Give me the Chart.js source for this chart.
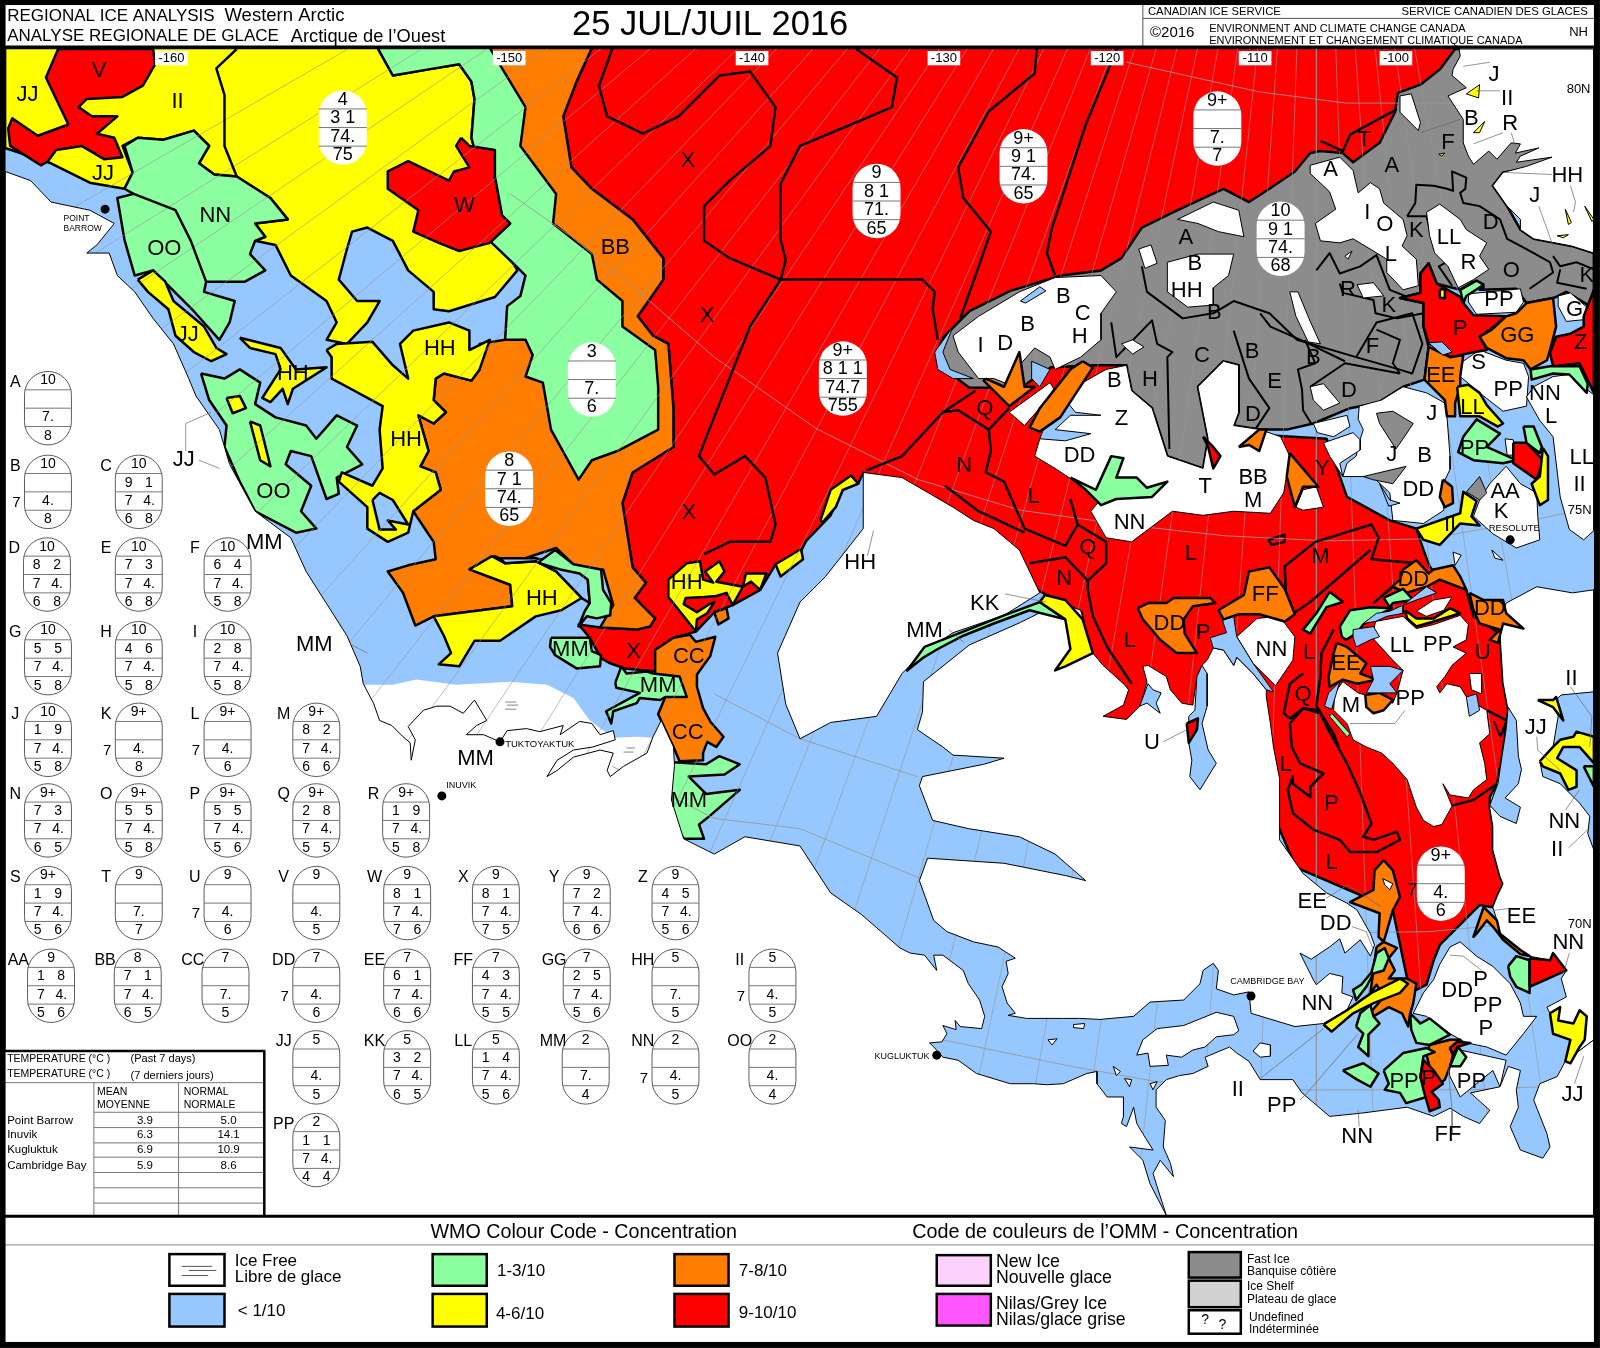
<!DOCTYPE html>
<html>
<head>
<meta charset="utf-8">
<title>Regional Ice Analysis - Western Arctic</title>
<style>html,body{margin:0;padding:0;background:#fff}canvas{display:block}</style>
<script src="https://cdn.jsdelivr.net/npm/chart.js@4"></script>
</head>
<body>
<canvas id="iceChart" width="1600" height="1348"></canvas>
<script>
// Map shapes (x, y in the 1568 x 1321 picture space)
const coast = [[5,168],[30,177],[50,198],[88,206],[112,219],[95,240],[85,248],[107,248],[115,270],[132,286],[150,312],[170,337],[185,371],[192,388],[215,421],[225,455],[250,501],[285,527],[300,560],[340,623],[353,653],[356,670],[366,689],[372,706],[384,711],[395,722],[402,728],[403,745],[407,725],[400,712],[415,696],[428,692],[441,692],[454,699],[465,686],[477,706],[467,711],[457,720],[474,720],[490,727],[497,716],[516,714],[529,717],[552,711],[549,720],[568,707],[580,709],[588,720],[601,716],[603,725],[581,732],[562,735],[546,745],[536,761],[546,755],[562,742],[588,735],[601,738],[595,755],[598,761],[611,751],[634,738],[640,722],[648,706],[660,732],[661,750],[658,784],[670,822],[700,837],[730,820],[784,829],[814,875],[844,896],[882,929],[892,934],[906,936],[918,951],[915,936],[924,936],[944,951],[949,964],[960,980],[965,996],[962,1008],[941,1006],[936,1000],[937,1009],[924,1005],[928,1013],[923,1021],[911,1022],[916,1027],[924,1036],[939,1039],[957,1052],[990,1062],[1013,1062],[1026,1063],[1042,1062],[1065,1052],[1075,1050],[1075,1062],[1085,1075],[1101,1075],[1101,1094],[1099,1101],[1104,1104],[1111,1085],[1114,1101],[1120,1111],[1130,1127],[1107,1124],[1120,1137],[1127,1160],[1143,1191],[1134,1163],[1130,1150],[1137,1137],[1150,1153],[1147,1140],[1140,1124],[1142,1098],[1133,1085],[1133,1068],[1143,1058],[1156,1054],[1169,1052],[1184,1045],[1181,1036],[1205,1026],[1212,1032],[1224,1040],[1235,1058],[1267,1058],[1276,1071],[1303,1094],[1333,1091],[1379,1085],[1405,1094],[1421,1086],[1434,1094],[1450,1101],[1460,1088],[1441,1071],[1470,1065],[1478,1045],[1490,1049],[1486,1068],[1488,1085],[1480,1104],[1490,1127],[1512,1135],[1519,1124],[1516,1111],[1503,1078],[1509,1062],[1526,1055],[1534,1040],[1562,1019]];
const openWater = [[358,671],[385,671],[408,666],[447,671],[500,668],[536,671],[562,684],[578,706],[601,723],[624,722],[640,723],[650,745],[600,770],[400,770],[358,700]];

const redMain = [[580,47],[1426,47],[1400,120],[1340,170],[1300,190],[1100,300],[1130,420],[1300,430],[1320,487],[1362,510],[1388,518],[1395,539],[1401,555],[1411,568],[1437,578],[1444,604],[1470,621],[1473,669],[1478,696],[1472,741],[1467,768],[1460,781],[1460,792],[1463,810],[1463,833],[1470,859],[1473,866],[1467,879],[1463,889],[1450,887],[1411,926],[1405,941],[1398,965],[1388,970],[1379,959],[1365,892],[1340,880],[1270,850],[1240,780],[1235,720],[1170,715],[1080,708],[1060,600],[1020,580],[846,463],[841,474],[826,480],[814,505],[790,530],[785,540],[760,553],[745,578],[718,593],[700,600],[682,619],[660,625],[642,637],[643,658],[612,655],[598,650],[589,645],[578,625],[567,612],[588,615],[624,617],[637,614],[642,606],[622,586],[633,571],[620,556],[610,493],[620,463],[660,438],[660,400],[655,337],[640,329],[625,310],[650,274],[650,253],[620,215],[580,185],[560,164],[552,114],[565,80]];
const orangeWest = [[470,47],[580,47],[565,80],[552,114],[560,164],[580,185],[620,215],[650,253],[650,274],[625,310],[640,329],[655,337],[660,400],[660,438],[620,463],[610,493],[620,556],[633,571],[622,586],[642,606],[637,614],[624,617],[588,615],[601,593],[591,558],[571,562],[545,537],[500,552],[485,545],[460,558],[500,573],[502,594],[425,604],[407,613],[395,581],[380,560],[400,554],[427,548],[425,531],[405,501],[432,480],[427,463],[412,457],[420,442],[410,407],[425,415],[437,404],[425,392],[427,371],[435,366],[462,373],[470,362],[470,337],[495,333],[530,320],[530,250],[510,200],[490,100]];
const yellowWest = [[5,47],[370,47],[385,74],[420,68],[450,63],[462,80],[465,97],[462,135],[470,165],[490,236],[507,265],[485,291],[440,305],[425,303],[425,286],[400,265],[385,236],[360,223],[345,227],[340,244],[332,274],[350,295],[372,295],[360,316],[340,337],[320,333],[330,316],[320,295],[285,270],[270,240],[250,236],[260,232],[250,219],[282,215],[265,194],[232,173],[210,171],[195,160],[205,143],[190,128],[160,137],[135,135],[120,143],[130,169],[122,185],[88,179],[50,160],[5,145]];
const greenThree = [[370,47],[480,47],[495,72],[515,105],[510,143],[545,190],[542,219],[580,249],[585,274],[610,295],[610,320],[642,343],[645,379],[645,421],[605,442],[580,451],[567,470],[540,421],[532,375],[515,369],[522,348],[515,333],[495,333],[497,300],[510,290],[515,270],[507,262],[482,238],[470,165],[462,135],[465,97],[462,80],[450,63],[420,68],[385,74]];
const redV = [[57,48],[45,76],[67,122],[37,133],[12,116],[8,126],[10,143],[40,162],[47,158],[55,147],[80,143],[102,156],[120,154],[112,135],[95,131],[115,114],[90,114],[77,105],[85,97],[120,95],[140,84],[152,63],[150,48]];
const redW = [[452,135],[460,143],[485,147],[485,173],[492,211],[500,219],[480,238],[450,246],[430,238],[405,227],[410,206],[380,185],[380,168],[400,158],[440,177],[445,168],[460,164],[447,143]];
const greenNN = [[122,143],[135,135],[160,137],[190,128],[205,143],[195,160],[210,171],[232,173],[265,194],[282,215],[250,219],[260,232],[250,236],[245,249],[260,265],[240,276],[202,276],[200,286],[230,295],[225,316],[215,333],[190,305],[165,280],[150,265],[132,270],[122,235],[115,194],[131,190],[122,185],[130,169]];
const yellowJJ = [[135,274],[150,265],[162,276],[170,295],[200,320],[212,341],[222,347],[207,354],[190,345],[172,329],[165,303],[145,286]];
const greenOO = [[197,366],[220,371],[235,362],[255,375],[250,396],[270,409],[300,417],[310,430],[330,407],[350,417],[340,438],[355,455],[330,468],[332,484],[320,489],[305,447],[285,442],[280,455],[305,476],[295,501],[310,518],[290,522],[250,501],[235,472],[220,438],[222,417],[205,392]];
const yellowOO1 = [[222,390],[235,388],[241,400],[228,405]];
const yellowOO2 = [[245,413],[255,417],[265,457],[255,451]];
const yellowHH1 = [[235,331],[275,341],[290,362],[320,360],[287,381],[282,396],[277,381],[265,394],[257,390],[275,362],[270,347],[245,341]];
const yellowHH2 = [[320,343],[330,337],[365,335],[385,358],[400,371],[392,337],[405,324],[440,316],[460,324],[460,343],[480,333],[470,362],[462,373],[435,366],[427,371],[425,392],[437,404],[425,415],[410,407],[420,442],[412,457],[427,463],[432,480],[405,501],[400,522],[380,531],[360,518],[360,497],[332,472],[335,463],[365,476],[375,459],[372,421],[375,398],[340,379],[325,371],[325,350]];
const blueHHhole = [[365,490],[372,483],[385,490],[400,514],[380,510],[388,519],[372,519]];
const yellowHH3 = [[460,558],[482,545],[495,552],[525,550],[545,560],[570,586],[550,598],[525,604],[490,628],[465,628],[450,653],[430,651],[442,640],[435,623],[425,604],[502,594],[500,573]];
const blueChannel = [[490,547],[525,547],[550,553],[568,562],[576,568],[578,591],[570,586],[545,560],[525,550],[495,552]];
const greenLow = [[529,550],[544,539],[562,553],[589,558],[591,578],[599,591],[598,603],[585,606],[575,604],[567,614],[573,599],[578,591],[576,568],[568,562],[549,558],[529,552]];
const greenMM1 = [[540,625],[578,625],[580,638],[589,642],[588,653],[565,655],[544,642],[539,634]];
const orangeCC = [[642,637],[660,625],[676,622],[682,629],[701,624],[696,643],[683,661],[683,673],[689,694],[696,707],[709,722],[702,732],[693,727],[689,738],[689,745],[666,746],[660,732],[645,700],[652,683],[642,660]];
const greenMM2 = [[603,669],[609,653],[614,660],[634,658],[640,660],[666,663],[673,683],[652,683],[647,686],[627,684],[624,689],[601,697],[599,709],[594,697],[627,679],[604,674]];
const greenMM3 = [[660,747],[692,749],[705,741],[725,749],[710,759],[675,761],[692,778],[725,774],[695,800],[685,808],[690,822],[670,822],[655,795]];
const yellowCoast = [[682,619],[655,585],[655,568],[673,552],[686,550],[689,568],[699,571],[691,560],[705,550],[710,560],[702,570],[728,575],[731,562],[751,562],[745,578],[736,570],[728,575],[718,593],[712,581],[702,584],[690,585],[672,586],[670,592],[683,600],[695,592],[700,590],[693,601],[683,607]];
const yellowCoast2 = [[760,553],[785,538],[787,548],[765,565]];
const yellowCoast3 = [[804,510],[814,480],[834,466],[841,474],[826,480],[819,497],[806,512]];
const orangeSpot = [[700,600],[712,596],[714,606],[704,612]];

const grayFast = [[1426,48],[1411,68],[1392,83],[1370,91],[1367,110],[1352,140],[1326,159],[1316,150],[1294,148],[1284,150],[1269,168],[1244,185],[1224,198],[1199,185],[1154,206],[1119,223],[1099,253],[1079,265],[1040,270],[990,285],[950,305],[925,330],[918,345],[930,365],[950,380],[1000,380],[1030,360],[1075,358],[1104,358],[1109,383],[1129,400],[1144,447],[1179,459],[1184,430],[1174,379],[1199,354],[1214,358],[1214,404],[1209,417],[1235,421],[1261,421],[1287,415],[1323,400],[1350,395],[1375,379],[1396,372],[1400,340],[1395,320],[1395,297],[1372,292],[1392,287],[1392,268],[1400,258],[1408,278],[1431,284],[1444,276],[1454,281],[1450,284],[1486,283],[1496,297],[1522,292],[1525,291],[1535,286],[1558,300],[1562,284],[1562,248],[1540,241],[1503,234],[1490,225],[1477,202],[1463,182],[1473,169],[1530,160],[1520,135],[1470,125],[1445,110],[1445,60],[1430,48]];

// Land, white, drawn over the sea and ice
const banks = [[846,463],[884,468],[934,497],[954,510],[974,518],[999,539],[1019,581],[984,603],[934,620],[904,640],[884,660],[859,702],[814,708],[784,724],[770,690],[762,640],[784,590],[809,565],[846,518]];
const victoria = [[1020,600],[1000,610],[950,632],[905,668],[904,698],[899,715],[924,732],[934,740],[984,743],[964,749],[904,761],[901,770],[914,804],[949,812],[999,820],[1034,837],[1064,863],[1044,858],[984,846],[909,841],[901,863],[915,902],[928,913],[954,923],[978,928],[995,939],[986,942],[988,954],[982,967],[987,983],[995,993],[988,995],[1006,998],[1042,998],[1058,998],[1078,999],[1111,996],[1127,982],[1160,980],[1176,964],[1179,951],[1189,944],[1194,951],[1192,969],[1209,975],[1224,972],[1226,993],[1269,1006],[1297,1003],[1320,990],[1326,977],[1315,973],[1316,957],[1303,954],[1290,965],[1287,960],[1274,934],[1285,940],[1303,928],[1313,920],[1318,934],[1333,921],[1343,937],[1347,926],[1343,915],[1330,892],[1320,885],[1300,875],[1277,856],[1254,823],[1254,763],[1248,732],[1245,709],[1241,683],[1241,676],[1228,660],[1212,644],[1209,652],[1199,637],[1189,635],[1183,647],[1178,652],[1173,663],[1169,691],[1158,689],[1147,676],[1143,663],[1125,652],[1120,653],[1124,668],[1120,683],[1117,692],[1104,705],[1081,702],[1101,691],[1106,676],[1102,671],[1081,652],[1071,640],[1059,598],[1024,585]];
const isleNNv = [[1212,624],[1232,606],[1254,604],[1269,624],[1267,647],[1250,672],[1228,650]];
const kent = [[1114,1034],[1120,1019],[1134,1008],[1160,1005],[1192,992],[1209,996],[1214,1010],[1209,1014],[1192,1016],[1181,1026],[1169,1029],[1158,1036],[1143,1034],[1145,1044],[1127,1045],[1125,1032]];
const boothia = [[1411,945],[1421,928],[1431,923],[1447,937],[1463,947],[1480,964],[1490,983],[1493,996],[1506,996],[1493,1013],[1476,1034],[1457,1026],[1437,1022],[1421,1013],[1398,996],[1385,993],[1395,973],[1405,960]];
const boothiaSouth = [[1431,1029],[1476,1039],[1473,1052],[1470,1065],[1463,1049],[1447,1062],[1431,1075],[1421,1055],[1418,1039]];
const somerset = [[1473,600],[1476,591],[1506,575],[1541,581],[1562,578],[1562,1019],[1534,1040],[1539,1019],[1522,1013],[1519,993],[1516,987],[1535,977],[1530,959],[1535,951],[1522,934],[1519,941],[1499,937],[1490,931],[1470,915],[1467,902],[1463,889],[1467,879],[1473,866],[1470,859],[1463,833],[1463,810],[1460,792],[1467,768],[1472,741],[1478,696],[1473,669],[1470,621]];
const princeWales = [[1348,609],[1375,604],[1388,616],[1405,612],[1431,603],[1439,612],[1437,627],[1424,634],[1437,640],[1423,652],[1416,663],[1408,673],[1411,679],[1418,670],[1431,673],[1439,686],[1457,696],[1460,719],[1450,728],[1455,748],[1457,764],[1444,774],[1439,782],[1421,779],[1414,768],[1423,790],[1413,808],[1405,810],[1395,804],[1388,791],[1379,764],[1365,748],[1354,738],[1339,732],[1326,725],[1320,709],[1307,696],[1308,679],[1316,668],[1331,679],[1365,689],[1369,679],[1375,657],[1365,647],[1345,625]];
const ellesmere = [[1430,48],[1562,48],[1562,248],[1540,241],[1503,234],[1490,225],[1490,215],[1477,202],[1463,182],[1473,169],[1496,163],[1521,154],[1486,159],[1490,153],[1508,145],[1485,150],[1490,141],[1481,140],[1467,156],[1459,148],[1444,161],[1439,153],[1434,140],[1434,117],[1419,94],[1437,86],[1423,74],[1424,68],[1431,55]];
const melville = [[1104,358],[1109,383],[1129,400],[1144,447],[1179,459],[1184,430],[1174,379],[1199,354],[1214,358],[1214,404],[1209,417],[1235,421],[1255,428],[1264,447],[1258,483],[1245,503],[1209,501],[1179,505],[1149,501],[1109,531],[1084,527],[1069,501],[1079,489],[1034,459],[1014,447],[1019,430],[1054,379],[1084,362]];
const patrick = [[934,329],[959,310],[999,286],[1034,272],[1079,270],[1094,286],[1079,307],[1079,333],[1059,350],[1034,362],[1029,350],[1014,341],[999,358],[994,379],[974,371],[959,371],[939,345]];
const eglinton = [[989,404],[1029,375],[1034,383],[1004,417]];
const isleA = [[1284,162],[1313,154],[1326,167],[1331,189],[1343,179],[1352,185],[1356,199],[1375,215],[1379,231],[1374,241],[1388,254],[1390,280],[1375,284],[1359,267],[1359,254],[1346,246],[1326,234],[1313,238],[1294,236],[1289,219],[1309,205],[1303,188],[1284,170]];
const isleLL = [[1398,208],[1411,200],[1431,215],[1437,225],[1457,238],[1450,251],[1459,264],[1444,274],[1429,282],[1419,261],[1406,248],[1401,231]];
const isleTop = [[1372,94],[1383,92],[1392,120],[1390,128],[1372,110]];
const isleSliver = [[1264,286],[1272,286],[1284,315],[1294,337],[1282,335],[1270,310]];
const isleA2 = [[1154,215],[1189,198],[1214,206],[1219,232],[1194,227],[1174,219]];
const isleHH = [[1144,257],[1174,249],[1209,249],[1204,270],[1189,282],[1189,299],[1164,301],[1144,286]];
const isleSmall1 = [[1116,244],[1128,240],[1134,258],[1122,263]];
const isleSmall2 = [[1099,337],[1110,333],[1121,340],[1110,347]];
const isleR = [[1330,279],[1346,277],[1356,290],[1336,292]];
const isleOval = [[1318,251],[1325,246],[1321,254]];
const isleAAK = [[1476,457],[1490,474],[1506,483],[1507,506],[1509,529],[1486,537],[1463,523],[1444,506],[1450,490],[1460,474]];
const isleDD = [[1354,392],[1375,379],[1398,385],[1416,395],[1418,408],[1421,447],[1421,460],[1413,477],[1415,500],[1395,513],[1365,510],[1362,483],[1345,467],[1316,467],[1320,454],[1329,447],[1332,434],[1336,421],[1331,411],[1332,398],[1343,395]];
const isleS = [[1431,356],[1450,343],[1476,353],[1493,356],[1498,369],[1496,398],[1473,403],[1450,385],[1431,369]];
const islePP = [[1439,288],[1490,283],[1493,296],[1486,306],[1447,308],[1439,296]];
const isleG = [[1527,290],[1539,287],[1555,301],[1555,313],[1535,315],[1527,300]];
const isleNN = [[1496,389],[1503,379],[1522,369],[1538,367],[1553,380],[1562,387],[1562,520],[1552,529],[1538,519],[1529,487],[1522,428],[1509,412],[1501,398]];
const isleD = [[1284,379],[1297,376],[1313,395],[1297,402],[1287,392]];
const isleE = [[1287,415],[1320,407],[1323,418],[1307,428],[1291,424]];
const isleF = [[1297,434],[1326,424],[1333,431],[1333,441],[1313,454],[1316,467],[1303,447]];
const isleBB = [[1290,477],[1297,497],[1277,500],[1270,497],[1277,480]];
const isleBay = [[1235,1022],[1245,1024],[1245,1035],[1235,1036],[1228,1030]];
const isleGulf1 = [[1027,1019],[1036,1018],[1031,1024]];
const isleGulf2 = [[1052,1004],[1063,1003],[1062,1008],[1052,1007]];
const isleGulf3 = [[1102,1057],[1109,1058],[1107,1065]];
const isleGulf4 = [[1091,1045],[1098,1050],[1094,1054]];
const isleGulf5 = [[1127,1062],[1134,1060],[1130,1068]];
const isleLancaster1 = [[1462,539],[1473,549],[1465,547]];
const isleLancaster2 = [[1424,541],[1432,544],[1426,554]];

// Blue, orange, yellow, green and red details sitting on the land
const blueStrip = [[1478,693],[1486,706],[1488,741],[1491,754],[1488,768],[1475,782],[1490,791],[1486,807],[1470,800],[1460,789],[1468,768],[1472,741],[1476,715]];
const blueRight = [[1530,681],[1562,678],[1562,833],[1556,817],[1558,800],[1548,787],[1529,768],[1512,761],[1509,746],[1516,745],[1522,732],[1527,702],[1522,689]];
const blueNN = [[1197,603],[1209,604],[1212,624],[1228,650],[1248,678],[1241,676],[1228,660],[1212,644],[1209,652],[1199,637],[1189,635],[1186,625],[1202,620],[1199,611]];
const blueVictoriaS = [[1178,652],[1183,660],[1183,692],[1178,709],[1184,735],[1192,748],[1187,756],[1176,774],[1166,761],[1168,745],[1165,728],[1165,702],[1171,696],[1173,663]];
const blueInlet = [[1125,670],[1130,676],[1138,679],[1133,689],[1137,699],[1124,689],[1117,692]];
const redStrip = [[1163,709],[1174,704],[1173,715],[1165,728]];
const bluePatrick = [[916,345],[934,320],[924,345],[931,362],[954,371],[934,371],[919,362]];
const bluePatrick2 = [[1011,354],[1029,362],[1019,379],[1011,371]];
const bluePatrick3 = [[1000,295],[1019,281],[1025,285],[1005,297]];
const blueMelville = [[1024,417],[1044,392],[1054,404],[1079,407],[1049,407],[1034,421],[1069,425],[1044,432],[1019,430]];
const orangePatrick = [[966,371],[984,379],[999,345],[1004,379],[1014,379],[989,398],[964,373]];
const orangeMelville = [[1061,354],[1071,360],[1039,409],[1019,423],[1009,419],[1019,400],[1049,362]];
const orangeBB = [[1214,438],[1234,421],[1241,421],[1234,442],[1224,436]];
const redT = [[1179,428],[1189,438],[1196,447],[1189,459],[1184,438]];
const greenInlet = [[1049,468],[1074,480],[1089,447],[1101,449],[1094,468],[1114,468],[1124,478],[1144,472],[1129,487],[1094,489],[1079,495],[1064,480]];
const yellowStrait = [[1024,583],[1044,588],[1061,607],[1071,640],[1044,653],[1034,657],[1049,636],[1044,607],[1019,590]];
const greenStrait = [[1019,590],[1044,607],[1009,598],[974,611],[944,623],[919,636],[904,645],[889,657],[906,634],[939,621],[984,603]];
const orangeFF = [[1194,598],[1219,583],[1224,560],[1244,556],[1259,577],[1269,602],[1259,609],[1234,602],[1214,602],[1199,607]];
const orangeDD = [[1115,596],[1125,591],[1143,591],[1150,586],[1186,586],[1191,591],[1169,594],[1160,607],[1161,621],[1173,640],[1153,640],[1137,627],[1120,607]];
const greenSliver = [[1303,580],[1316,590],[1300,595],[1284,621],[1277,617],[1290,601]];
const orangeDD2 = [[1346,591],[1372,568],[1375,558],[1388,549],[1400,562],[1405,558],[1424,554],[1431,565],[1437,578],[1411,568],[1398,575],[1378,581],[1365,575]];
const orangeDD3 = [[1440,581],[1454,588],[1473,588],[1476,601],[1493,616],[1473,611],[1468,630],[1460,627],[1470,617],[1450,611],[1444,598]];
const greenUp = [[1356,586],[1375,577],[1385,588],[1365,591],[1362,595]];
const greenUp2 = [[1313,614],[1323,598],[1343,595],[1364,596],[1343,607],[1336,612],[1329,621],[1319,627],[1315,624]];
const blueUp = [[1336,611],[1349,601],[1362,599],[1375,593],[1398,575],[1408,581],[1388,588],[1375,593],[1375,601],[1359,604],[1348,609]];
const blueUp2 = [[1326,617],[1346,614],[1352,624],[1343,627],[1329,634],[1326,624]];
const yellowUp = [[1377,598],[1388,606],[1405,606],[1421,596],[1431,601],[1405,609],[1388,614],[1379,606]];
const whiteUp = [[1388,599],[1405,588],[1423,585],[1415,598],[1398,604]];
const orangeEE = [[1310,630],[1320,634],[1339,650],[1333,660],[1349,666],[1330,670],[1316,666],[1303,673],[1302,663],[1307,640]];
const orangeM = [[1338,681],[1352,679],[1365,686],[1356,696],[1346,699],[1339,693]];
const blueM = [[1343,653],[1362,653],[1375,657],[1362,670],[1369,679],[1352,679],[1339,679],[1346,666]];
const blueM2 = [[1298,692],[1302,679],[1313,668],[1305,695]];
const greenThin = [[1305,699],[1323,719],[1320,722],[1303,702]];
const whiteU = [[1440,660],[1452,660],[1452,680],[1442,676]];
const blueU = [[1437,683],[1447,680],[1450,696],[1440,702]];
const orangeEE2 = [[1347,853],[1346,872],[1323,884],[1352,895],[1351,918],[1356,923],[1365,892],[1372,879],[1365,853],[1356,843]];
const whiteEE2 = [[1355,861],[1365,866],[1362,872],[1357,867]];
const orangeBand = [[1349,928],[1356,923],[1369,929],[1361,939],[1367,951],[1361,959],[1379,959],[1388,964],[1385,983],[1382,993],[1380,1006],[1374,993],[1361,987],[1346,996],[1341,1003],[1345,990],[1356,977],[1349,965],[1343,973]];
const greenBand = [[1349,934],[1357,929],[1361,939],[1356,951],[1346,954],[1339,967],[1329,980],[1326,970],[1334,965],[1344,953]];
const yellowBand = [[1297,1004],[1320,990],[1344,973],[1372,959],[1380,964],[1372,973],[1346,983],[1326,993],[1305,1011]];
const greenBand2 = [[1329,1006],[1333,993],[1343,985],[1346,996],[1352,1003],[1341,1014],[1341,1035],[1331,1026],[1336,1013]];
const greenBlob = [[1316,1049],[1336,1042],[1351,1052],[1343,1065],[1330,1058]];
const greenSouth = [[1382,993],[1392,1003],[1401,998],[1421,1014],[1401,1024],[1388,1022],[1383,1009]];
const orangeSouth = [[1401,1024],[1421,1019],[1431,1019],[1421,1027],[1424,1034],[1421,1045],[1416,1058],[1411,1062],[1401,1045],[1398,1034]];
const greenPP = [[1356,1049],[1375,1032],[1398,1027],[1406,1031],[1395,1035],[1392,1055],[1398,1075],[1378,1081],[1372,1071],[1357,1068],[1361,1062]];
const redP = [[1395,1039],[1405,1049],[1414,1062],[1403,1070],[1410,1078],[1411,1085],[1401,1089],[1395,1068],[1392,1055]];
const redSmall = [[1421,1027],[1428,1021],[1441,1022],[1428,1026],[1424,1034]];
const greenRight = [[1421,1045],[1429,1026],[1437,1036],[1431,1045]];
const greenL = [[1478,947],[1486,937],[1499,941],[1499,973],[1486,967],[1480,957]];
const redL = [[1499,939],[1519,941],[1522,934],[1535,951],[1499,967]];
const orangeEE3 = [[1454,889],[1467,902],[1470,915],[1490,931],[1499,937],[1490,935],[1473,921],[1463,908],[1457,902],[1447,915],[1444,918]];
const yellowJJ1 = [[1519,993],[1529,987],[1527,1000],[1542,1003],[1548,990],[1555,996],[1553,1019],[1548,1026],[1539,1042],[1534,1040],[1539,1019],[1522,1013]];
const yellowJJ2 = [[1507,686],[1522,686],[1525,683],[1532,706],[1522,693]];
const yellowJJ3 = [[1509,746],[1522,732],[1529,725],[1542,722],[1545,717],[1562,722],[1562,748],[1556,741],[1548,732],[1532,732],[1526,743],[1545,755],[1545,771],[1537,774],[1529,758],[1512,751]];
const greenJJ = [[1552,751],[1562,751],[1562,771]];
const orangeEEup = [[1400,340],[1421,350],[1434,348],[1431,369],[1431,379],[1426,395],[1426,408],[1418,408],[1416,392],[1396,372]];
const blueEEup = [[1400,336],[1413,335],[1423,345],[1414,348]];
const redPup = [[1372,292],[1392,287],[1392,268],[1400,258],[1408,278],[1431,291],[1434,297],[1444,309],[1476,310],[1460,323],[1450,330],[1457,343],[1440,346],[1431,348],[1421,350],[1400,336],[1395,320],[1395,297]];
const yellowPup = [[1411,284],[1416,283],[1416,292],[1411,292]];
const greenPup = [[1431,284],[1447,275],[1454,279],[1437,290],[1434,297]];
const orangeGG = [[1486,307],[1496,297],[1522,292],[1525,320],[1519,343],[1516,353],[1500,362],[1493,353],[1476,351],[1457,341],[1450,330],[1462,323],[1476,310]];
const redZ = [[1562,284],[1552,310],[1552,320],[1539,327],[1525,330],[1519,346],[1522,359],[1548,356],[1562,385]];
const greenNNup = [[1500,362],[1519,359],[1548,359],[1556,376],[1555,385],[1538,367],[1522,366],[1501,372]];
const yellowLL = [[1428,379],[1439,377],[1450,385],[1457,397],[1473,415],[1468,418],[1450,408],[1431,408]];
const greenPPup = [[1434,428],[1447,411],[1470,425],[1457,438],[1486,451],[1473,454],[1444,451],[1429,443]];
const whitePPup = [[1475,430],[1483,431],[1485,446],[1477,446]];
const redAA = [[1483,434],[1496,434],[1512,451],[1506,470],[1483,454]];
const greenAA = [[1493,418],[1503,418],[1511,438],[1509,444],[1496,434]];
const yellowAA = [[1512,439],[1517,447],[1517,490],[1509,495],[1501,474],[1509,467]];
const grayAA = [[1444,474],[1450,467],[1457,483],[1450,490],[1437,482]];
const yellowII = [[1388,518],[1431,503],[1434,482],[1447,491],[1442,506],[1450,515],[1431,513],[1411,534],[1395,529]];
const grayDD = [[1349,405],[1365,403],[1385,415],[1375,430],[1368,440],[1352,415]];
const grayDD2 = [[1336,467],[1378,457],[1365,474],[1345,470]];
const blueDD = [[1352,474],[1362,490],[1372,493],[1361,496]];
const orangeDD4 = [[1414,470],[1423,477],[1424,493],[1416,497],[1411,487]];
const orangeY = [[1264,444],[1292,477],[1277,477],[1269,497],[1261,467]];
const ovalM = [[1243,529],[1259,524],[1259,531],[1246,534]];
const yellowTop = [[[1437,92],[1450,83],[1449,96]], [[1444,130],[1455,119],[1450,130]], [[1410,151],[1416,150],[1413,153]], [[1534,205],[1540,218],[1537,220]], [[1553,202],[1562,215],[1560,217]], [[1526,231],[1537,230],[1532,233]]];

// Ice-edge and boundary lines inside the coloured areas
const iceLines = [
  [[232,48],[212,67],[220,93],[220,143],[232,173]],
  [[131,190],[172,206],[187,236],[202,276]],
  [[600,48],[587,84],[595,114],[630,131],[665,114],[705,74],[735,70],[760,105],[755,143],[715,177],[690,202],[690,236],[715,253],[765,274],[735,320],[695,421],[685,447],[700,465],[730,447],[750,468],[760,514],[755,531],[715,531],[690,543]],
  [[839,48],[879,76],[874,105],[834,122],[784,143],[765,180],[765,235],[770,255],[765,274],[814,274],[904,274],[916,286],[914,303],[919,333]],
  [[1016,48],[1014,72],[969,109],[939,164],[944,194],[971,227],[956,270],[941,312]],
  [[1095,47],[1064,122],[1031,223],[1026,248],[1034,270]],
  [[849,461],[884,447],[924,404],[956,383]],
  [[924,404],[939,402],[969,421],[989,400]],
  [[969,421],[971,442],[966,463],[984,472],[1004,518],[1044,535],[1056,514],[1049,489]],
  [[926,476],[959,501],[1004,522]],
  [[1009,552],[1044,546],[1066,569],[1084,552],[1084,531],[1056,514]],
  [[1066,569],[1066,578],[1071,604],[1085,634],[1109,670]],
  [[1261,598],[1259,555],[1289,531],[1344,514],[1351,527],[1344,548],[1389,552]],
  [[1259,607],[1284,590],[1343,539]],
  [[1307,617],[1295,640],[1294,663],[1290,692],[1307,719],[1312,732]],
  [[1277,660],[1264,670],[1258,699],[1264,704],[1277,694],[1294,696]],
  [[1264,709],[1266,732],[1274,748],[1297,758],[1284,771],[1284,781],[1267,768],[1267,761],[1262,774],[1267,797],[1287,813],[1313,823],[1323,835],[1349,835],[1372,823],[1369,815],[1346,823],[1336,820],[1344,807],[1333,777],[1320,748],[1300,712],[1294,699],[1277,694],[1264,709]],
  [[1457,696],[1478,707],[1470,722]],
  [[1421,790],[1444,784],[1467,768]],
  [[1294,138],[1316,148],[1323,132],[1369,107]]
];
const grayLines = [
  [[1119,261],[1124,286],[1159,312],[1189,307],[1209,295],[1244,307],[1271,333],[1329,350],[1371,362]],
  [[1089,316],[1094,350],[1129,314],[1134,337],[1149,345],[1144,350],[1146,440]],
  [[1209,324],[1224,371],[1244,400],[1230,421]],
  [[1329,350],[1349,316],[1384,307],[1394,337],[1384,366],[1371,362]],
  [[1284,379],[1318,356],[1372,366]],
  [[1379,212],[1387,199],[1388,181],[1405,182],[1418,185],[1424,187],[1423,168],[1437,174],[1436,185],[1431,189],[1434,199],[1450,202],[1470,215],[1477,234],[1490,241],[1503,248],[1519,257],[1522,267],[1499,283]],
  [[1379,212],[1398,212],[1405,241],[1415,254],[1423,254],[1410,261],[1423,280]],
  [[1522,251],[1529,261],[1545,257],[1562,264]],
  [[1529,264],[1526,277],[1555,283]],
  [[1290,265],[1303,248],[1313,268],[1333,261],[1349,250],[1362,284],[1382,292]],
  [[1313,278],[1316,287],[1346,294],[1348,307],[1369,312],[1395,307]],
  [[1279,333],[1289,356],[1272,362],[1276,382],[1277,402],[1285,415]],
  [[1235,307],[1245,320],[1279,335],[1318,354]],
  [[1349,323],[1372,333],[1365,356],[1372,366]]
];

// Graticule: meridians run from the pole to these x values on the map's lower edge
const poleX = 1290, poleY = -500, meridianEndY = 1192;
const meridianEnds = [-1640,-1417,-1219,-1039,-876,-726,-589,-462,-344,-233,-130,-32,61,149,233,313,390,465,537,606,674,740,805,868,930,992,1052,1112,1172,1231,1290,1349,1408,1468,1528,1588];
const latitudeArcs = [
  [[1104,61],[1234,90],[1319,101],[1434,101],[1519,92],[1562,80]],
  [[500,190],[560,232],[625,285],[700,350],[800,420],[900,470],[1000,500],[1100,514],[1200,525],[1300,530],[1400,528],[1500,510],[1562,497]],
  [[600,751],[700,802],[784,812],[900,860],[1000,885],[1100,900],[1200,910],[1319,914],[1400,913],[1500,904],[1562,895]],
  [[700,680],[784,724],[899,761]],
  [[924,1019],[1050,1045],[1134,1060],[1280,1068],[1440,1068],[1510,1065]]
];
const iceFreeTicks = [[[495,688],[506,688]], [[497,691],[508,691]], [[495,695],[506,695]], [[614,733],[622,733]], [[611,737],[621,737]]];
const leaders = [
  [[182,442],[182,415],[207,404]], [[195,451],[215,459]], [[345,632],[360,640]],
  [[985,582],[1025,590]], [[930,617],[945,630]], [[850,545],[856,520]],
  [[1434,65],[1460,61]], [[1447,89],[1470,89]], [[1392,130],[1431,117]], [[1444,141],[1473,130]],
  [[1481,130],[1485,143]], [[1475,169],[1521,171]], [[1539,182],[1544,198],[1542,208]], [[1508,202],[1522,241]],
  [[1323,709],[1367,709],[1377,696]], [[1539,673],[1560,702],[1558,732]], [[1506,722],[1507,735],[1529,755]],
  [[1537,831],[1556,813]], [[1534,794],[1548,774]], [[1140,727],[1163,715]],
  [[1300,880],[1321,867],[1354,889]], [[1325,908],[1339,913],[1346,931]], [[1421,936],[1434,937],[1452,951]],
  [[1465,892],[1481,890]], [[1538,934],[1532,954]], [[1552,1035],[1543,1062]], [[1419,1045],[1423,1088],[1423,1111]],
  [[1331,1088],[1332,1104]], [[1274,1078],[1281,1071],[1331,1013]], [[1235,1057],[1297,1008]]
];

// Weather stations
const stationNames = ['POINT', 'BARROW', 'TUKTOYAKTUK', 'INUVIK', 'CAMBRIDGE BAY', 'KUGLUKTUK', 'RESOLUTE'];
const stationDots = [[103,205],[490,727],[433,780],[1226,976],[918,1034],[1480,529]];

// Egg codes in the left legend
const eggNames = ['A','B','C','D','E','F','G','H','I','J','K','L','M','N','O','P','Q','R','S','T','U','V','W','X','Y','Z','AA','BB','CC','DD','EE','FF','GG','HH','II','JJ','KK','LL','MM','NN','OO','PP'];
const eggTotals = ['10','10','10','10','10','10','10','10','10','10','9+','9+','9+','9+','9+','9+','9+','9+','9+','9','9','9','9','9','9','9','9','8','7','7','7','7','7','5','5','5','5','5','2','2','2','2'];
const eggPartials = ['','','9 1','8 2','7 3','6 4','5 5','4 6','2 8','1 9','','','8 2','7 3','5 5','5 5','2 8','1 9','1 9','','','','8 1','8 1','7 2','4 5','1 8','7 1','','','6 1','4 3','2 5','','','','3 2','1 4','','','','1 1'];
const eggStages = ['7.','4.','7 4.','7 4.','7 4.','7 4.','7 4.','7 4.','7 4.','7 4.','4.','4.','7 4.','7 4.','7 4.','7 4.','7 4.','7 4.','7 4.','7.','4.','4.','7 4.','7 4.','7 4.','7 4.','7 4.','7 4.','7.','4.','7 4.','7 4.','7 4.','7.','4.','4.','7 4.','7 4.','7.','4.','4.','7 4.'];
const eggForms = ['8','8','6 8','6 8','6 8','5 8','5 8','5 8','5 8','5 8','8','6','6 6','6 5','5 8','5 6','5 5','5 8','5 6','7','6','5','7 6','7 5','6 6','5 6','5 6','6 5','5','6','6 6','5 5','5 6','5','5','5','6 5','5 6','4','5','4','4 4'];
const eggsWithSeven = ['B','K','L','U','DD','II','NN'];
const eggColumns = [47,47,136,46,136,223,47,136,223,47,136,223,310,47,136,223,310,398,47,136,223,310,399,486,575,662,50,135,221,310,399,486,575,662,757,310,399,486,574,662,757,310];
const eggRows = [400,482,482,563,563,563,645,645,645,725,725,725,725,804,804,804,804,804,885,885,885,885,885,885,885,885,966,966,966,966,966,966,966,966,966,1046,1046,1046,1046,1046,1046,1127];

// Egg codes placed on the map
const mapEggTotals = ['4','3','8','9','9+','9+','9+','10','9+'];
const mapEggPartials = ['3 1','','7 1','8 1','9 1','','8 1 1','9 1',''];
const mapEggStages = ['74.','7.','74.','71.','74.','7.','74.7','74.','4.'];
const mapEggForms = ['75','6','65','65','65','7','755','68','6'];
const mapEggX = [336,580,499,859,1003,1193,826,1255,1412];
const mapEggY = [125,372,479,197,163,126,371,234,866];

// Region letters on the map
const regionLabels = ['V','JJ','II','JJ','NN','OO','JJ','HH','W','BB','X','X','X','HH','HH','OO','JJ','MM','MM','HH','X','MM','MM','CC','CC','MM','MM','HH','HH','MM','KK','N','L','Q','Q','N','L','L','M','Y','FF','DD','P','NN','L','LL','PP','EE','Q','M','PP','U','DD','DD','V','JJ','II','NN','II','L','P','L','U','EE','DD','EE','NN','NN','DD','P','PP','P','PP','JJ','II','PP','NN','FF','PP','P','J','II','B','R','T','F','A','A','HH','J','I','O','D','K','LL','L','R','O','K','A','B','HH','PP','G','R','K','B','C','B','H','I','D','B','P','GG','Z','C','B','B','F','E','D','H','B','EE','S','PP','NN','L','Z','D','J','LL','PP','LL','II','AA','K','B','DD','J','T','BB','M','NN','DD','II','7'];
const regionX = [97,27,174,101,211,161,184,287,455,603,674,693,675,431,398,268,180,259,308,531,621,559,645,675,674,675,466,673,843,906,965,945,1013,965,1066,1043,1107,1167,1294,1296,1240,1146,1179,1246,1283,1374,1409,1319,1277,1324,1382,1453,1385,1460,1470,1505,1540,1533,1526,1260,1305,1305,1129,1286,1309,1491,1537,1291,1428,1451,1458,1456,1442,1541,1213,1256,1330,1419,1376,1400,1464,1477,1442,1480,1337,1419,1304,1364,1536,1504,1340,1357,1461,1388,1420,1363,1439,1481,1555,1162,1171,1163,1469,1543,1321,1361,1042,1061,1007,1058,961,985,1190,1431,1487,1549,1178,1227,1287,1345,1249,1322,1127,1092,1412,1449,1478,1514,1520,1099,1228,1403,1443,1445,1550,1548,1475,1471,1396,1390,1364,1181,1228,1228,1107,1058,1421,1384];
const regionY = [70,93,100,170,212,244,328,366,202,243,158,310,503,342,431,482,451,532,632,587,639,637,672,644,718,785,744,571,552,618,592,457,487,401,537,567,628,543,546,460,583,611,620,637,640,633,632,651,681,692,685,640,568,597,715,713,665,805,833,750,788,846,728,884,905,899,924,984,971,960,986,1008,1060,1073,1068,1084,1114,1112,1060,1057,73,97,117,121,137,140,167,163,172,192,209,220,218,226,233,250,258,266,270,233,259,285,294,304,284,300,291,308,318,330,339,337,307,322,329,336,349,345,351,340,374,383,372,373,368,356,382,386,409,411,407,406,400,440,449,475,482,502,447,480,446,477,468,491,512,447,514,873];

// Temperature table
const tableStations = ['Point Barrow', 'Inuvik', 'Kugluktuk', 'Cambridge Bay'];
const tableMean = ['3.9', '6.3', '6.9', '5.9'];
const tableNormal = ['5.0', '14.1', '10.9', '8.6'];
const tableRowLines = [1090,1105,1120,1134,1149,1164,1179];
const tableTextRows = [1098,1112,1127,1142];

// Graticule labels
const lonLabels = ['-160','-150','-140','-130','-120','-110','-100'];
const lonLabelX = [168,499,737,925,1085,1230,1368];
const latLabels = ['80N','75N','70N'];
const latLabelX = [1547,1548,1548];
const latLabelY = [88,500,906];

const RED = '#ff0000', ORANGE = '#ff7d00', YELLOW = '#ffff00', GREEN = '#8cffa0', BLUE = '#96c8ff', GRAY = '#8c8c8c', WHITE = '#ffffff';
const layers = [];

function shape(points, fill, width) {
  layers.push({
    data: points.concat([points[0]]),
    showLine: true, fill: 'shape', backgroundColor: fill,
    borderColor: '#000', borderWidth: width === undefined ? 2.5 : width,
    pointRadius: 0, tension: 0, borderJoinStyle: 'round'
  });
}
function stroke(points, colour, width) {
  layers.push({
    data: points, showLine: true, fill: false,
    borderColor: colour, borderWidth: width,
    pointRadius: 0, tension: 0, borderJoinStyle: 'round'
  });
}

// Painted from the bottom up, then reversed since Chart.js draws the first dataset last
shape(coast.concat([[1562,47],[5,47]]), BLUE, 0);
shape(openWater, WHITE, 0);
iceFreeTicks.forEach(l => stroke(l, '#666', 0.8));
shape(redMain, RED);
shape(orangeWest, ORANGE);
shape(yellowWest, YELLOW);
shape(greenThree, GREEN);
[redV, redW].forEach(p => shape(p, RED));
shape(greenNN, GREEN);
shape(yellowJJ, YELLOW);
shape(greenOO, GREEN);
[yellowOO1, yellowOO2, yellowHH1, yellowHH2].forEach(p => shape(p, YELLOW));
shape(blueHHhole, BLUE);
shape(yellowHH3, YELLOW);
shape(blueChannel, BLUE);
shape(greenLow, GREEN);
shape(greenMM1, GREEN);
shape(orangeCC, ORANGE);
[greenMM2, greenMM3].forEach(p => shape(p, GREEN));
[yellowCoast, yellowCoast2, yellowCoast3].forEach(p => shape(p, YELLOW));
shape(orangeSpot, ORANGE);
shape(grayFast, GRAY);
shape(ovalM, RED);

meridianEnds.forEach(endX => stroke([[poleX, poleY], [endX, meridianEndY]], 'rgba(150,150,150,0.75)', 0.8));
latitudeArcs.forEach(a => stroke(a, 'rgba(150,150,150,0.85)', 1));
iceLines.forEach(l => stroke(l, '#000', 2.5));
grayLines.forEach(l => stroke(l, '#000', 2));

[banks, victoria, isleNNv, kent, boothia, boothiaSouth, somerset, princeWales, ellesmere, melville, patrick, eglinton,
 isleA, isleLL, isleTop, isleSliver, isleA2, isleHH, isleSmall1, isleSmall2, isleR, isleOval, isleAAK, isleDD, isleS,
 islePP, isleG, isleNN, isleD, isleE, isleF, isleBB, isleBay, isleGulf1, isleGulf2, isleGulf3, isleGulf4, isleGulf5,
 isleLancaster1, isleLancaster2].forEach(p => shape(p, WHITE, 1));
shape(coast.concat([[1562,1192],[5,1192]]), WHITE, 1);

[blueStrip, blueRight, blueNN, blueVictoriaS, blueInlet, bluePatrick, bluePatrick2, bluePatrick3, blueMelville].forEach(p => shape(p, BLUE, 1));
shape(redStrip, RED);
yellowTop.forEach(p => shape(p, YELLOW, 1));
[orangePatrick, orangeMelville, orangeBB, orangeFF, orangeDD, orangeY].forEach(p => shape(p, ORANGE));
shape(redT, RED);
[greenInlet, greenStrait, greenSliver].forEach(p => shape(p, GREEN));
shape(yellowStrait, YELLOW);
[orangeDD2, orangeDD3].forEach(p => shape(p, ORANGE));
[greenUp, greenUp2].forEach(p => shape(p, GREEN));
[blueUp, blueUp2].forEach(p => shape(p, BLUE, 1));
shape(yellowUp, YELLOW);
shape(whiteUp, WHITE, 1);
[orangeEE, orangeM].forEach(p => shape(p, ORANGE));
[blueM, blueM2, blueU].forEach(p => shape(p, BLUE, 1));
shape(greenThin, GREEN, 1);
shape(whiteU, WHITE, 1);
shape(orangeEE2, ORANGE);
shape(whiteEE2, WHITE, 1);
shape(orangeBand, ORANGE);
shape(greenBand, GREEN);
shape(yellowBand, YELLOW);
[greenBand2, greenBlob, greenSouth].forEach(p => shape(p, GREEN));
shape(orangeSouth, ORANGE);
shape(greenPP, GREEN);
[redP, redSmall].forEach(p => shape(p, RED));
[greenRight, greenL].forEach(p => shape(p, GREEN));
shape(redL, RED);
shape(orangeEE3, ORANGE);
[yellowJJ1, yellowJJ2, yellowJJ3].forEach(p => shape(p, YELLOW));
shape(greenJJ, GREEN);
shape(redPup, RED);
shape(orangeEEup, ORANGE);
shape(blueEEup, BLUE, 1);
shape(yellowPup, YELLOW);
shape(greenPup, GREEN);
shape(orangeGG, ORANGE);
shape(redZ, RED);
shape(greenNNup, GREEN);
shape(yellowLL, YELLOW);
shape(greenPPup, GREEN);
shape(whitePPup, WHITE, 1);
shape(redAA, RED);
shape(greenAA, GREEN);
shape(yellowAA, YELLOW);
shape(grayAA, GRAY, 1);
shape(yellowII, YELLOW);
[grayDD, grayDD2].forEach(p => shape(p, GRAY, 1));
shape(blueDD, BLUE, 1);
shape(orangeDD4, ORANGE);
leaders.forEach(l => stroke(l, '#666', 0.7));
layers.push({data: stationDots, pointRadius: 4.5, pointBackgroundColor: '#000', pointBorderWidth: 0, showLine: false});

// Everything that is text or furniture goes on after the datasets
const sheetPlugin = {
  id: 'sheet',
  afterDatasetsDraw(chart) {
    const ctx = chart.ctx;
    const X = v => chart.scales.x.getPixelForValue(v);
    const Y = v => chart.scales.y.getPixelForValue(v);
    const FONT = '"Liberation Sans", Arial, sans-serif';

    function text(str, x, y, size, align, colour) {
      ctx.font = size + 'px ' + FONT;
      ctx.textAlign = align || 'left';
      ctx.textBaseline = 'middle';
      ctx.fillStyle = colour || '#000';
      ctx.fillText(str, X(x), Y(y));
    }
    function rect(x0, y0, x1, y1, fill, line, width) {
      if (fill) { ctx.fillStyle = fill; ctx.fillRect(X(x0), Y(y0), X(x1) - X(x0), Y(y1) - Y(y0)); }
      if (line) { ctx.strokeStyle = line; ctx.lineWidth = width || 1; ctx.strokeRect(X(x0), Y(y0), X(x1) - X(x0), Y(y1) - Y(y0)); }
    }
    function hline(x0, x1, y, colour, width) {
      ctx.strokeStyle = colour; ctx.lineWidth = width;
      ctx.beginPath(); ctx.moveTo(X(x0), Y(y)); ctx.lineTo(X(x1), Y(y)); ctx.stroke();
    }
    function vline(x, y0, y1, colour, width) {
      ctx.strokeStyle = colour; ctx.lineWidth = width;
      ctx.beginPath(); ctx.moveTo(X(x), Y(y0)); ctx.lineTo(X(x), Y(y1)); ctx.stroke();
    }
    function egg(cx, cy, w, h, border) {
      const r = w / 2, hw = X(cx + r) - X(cx), top = Y(cy - h / 2), bot = Y(cy + h / 2);
      const ry = Y(cy - h / 2 + r) - top;
      ctx.beginPath();
      ctx.moveTo(X(cx) - hw, top + ry);
      ctx.ellipse(X(cx), top + ry, hw, ry, 0, Math.PI, 2 * Math.PI);
      ctx.lineTo(X(cx) + hw, bot - ry);
      ctx.ellipse(X(cx), bot - ry, hw, ry, 0, 0, Math.PI);
      ctx.closePath();
      ctx.fillStyle = '#fff';
      ctx.fill();
      if (border) { ctx.strokeStyle = '#333'; ctx.lineWidth = 0.8; ctx.stroke(); }
      [-0.25, 0, 0.25].forEach(f => hline(cx - r, cx + r, cy + f * h, '#777', 1));
    }
    function pair(str, cx, y, size, gap) {
      const parts = str.split(' ');
      if (parts.length === 2) {
        text(parts[0], cx - gap, y, size, 'center');
        text(parts[1], cx + gap, y, size, 'center');
      } else if (str) {
        text(str, cx, y, size, 'center');
      }
    }

    // map labels
    regionLabels.forEach((s, i) => text(s, regionX[i], regionY[i], s === '7' ? 19 : 22, 'center'));
    lonLabels.forEach((s, i) => {
      rect(lonLabelX[i] - 16, 50, lonLabelX[i] + 16, 64, '#fff');
      text(s, lonLabelX[i], 57, 13, 'center');
    });
    latLabels.forEach((s, i) => text(s, latLabelX[i], latLabelY[i], 13, 'center'));
    text(stationNames[0], 75, 214, 8.5, 'center');
    text(stationNames[1], 81, 224, 8.5, 'center');
    text(stationNames[2], 529, 729, 9.5, 'center');
    text(stationNames[3], 452, 770, 9, 'center');
    text(stationNames[4], 1242, 962, 9, 'center');
    text(stationNames[5], 884, 1035, 9, 'center');
    text(stationNames[6], 1484, 518, 9.5, 'center');

    // map eggs
    mapEggX.forEach((cx, i) => {
      const cy = mapEggY[i];
      egg(cx, cy, 47, 73, false);
      text(mapEggTotals[i], cx, cy - 27, 18, 'center');
      text(mapEggPartials[i], cx, cy - 9, 18, 'center');
      text(mapEggStages[i], cx, cy + 9, 18, 'center');
      text(mapEggForms[i], cx, cy + 27, 18, 'center');
    });

    // egg legend
    eggNames.forEach((name, i) => {
      const cx = eggColumns[i], cy = eggRows[i];
      egg(cx, cy, 46, 72, true);
      text(name, cx - 32, cy - 25, 16, 'center');
      if (eggsWithSeven.indexOf(name) >= 0) text('7', cx - 31, cy + 11, 15, 'center');
      text(eggTotals[i], cx, cy - 27, 14, 'center');
      pair(eggPartials[i], cx, cy - 9, 14, 10);
      pair(eggStages[i], cx, cy + 9, 14, 10);
      pair(eggForms[i], cx, cy + 27, 14, 10);
    });

    // temperature table
    rect(5, 1030, 259, 1192, '#fff');
    text('TEMPERATURE (°C )', 7, 1038, 10.5);
    text('(Past 7 days)', 128, 1038, 11);
    text('TEMPERATURE (°C )', 7, 1053, 10.5);
    text('(7 derniers jours)', 128, 1054, 11);
    text('MEAN', 95, 1070, 10.5);
    text('MOYENNE', 95, 1083, 10.5);
    text('NORMAL', 180, 1070, 10.5);
    text('NORMALE', 180, 1083, 10.5);
    hline(5, 259, 1061, '#777', 1);
    tableRowLines.forEach(y => hline(92, 259, y, '#777', 1));
    vline(92, 1061, 1192, '#777', 1);
    vline(175, 1061, 1192, '#777', 1);
    tableStations.forEach((s, i) => {
      text(s, 7, tableTextRows[i], 11.5);
      text(tableMean[i], 142, tableTextRows[i], 11.5, 'center');
      text(tableNormal[i], 224, tableTextRows[i], 11.5, 'center');
    });
    hline(4, 260, 1030, '#000', 2.5);
    vline(259, 1030, 1192, '#000', 2.5);

    // header
    rect(0, 0, 1568, 46, '#fff');
    text('REGIONAL ICE ANALYSIS', 7, 16, 17);
    text('Western Arctic', 220, 16, 18.5);
    text('ANALYSE REGIONALE DE GLACE', 7, 36, 17);
    text('Arctique de l’Ouest', 285, 36, 18.3);
    text('25 JUL/JUIL 2016', 696, 25, 34.5, 'center');
    vline(1120, 4, 46, '#555', 1);
    hline(1120, 1562, 18, '#555', 1);
    text('CANADIAN ICE SERVICE', 1125, 12, 11.3);
    text('SERVICE CANADIEN DES GLACES', 1556, 12, 11.3, 'right');
    text('©2016', 1127, 32, 15);
    text('ENVIRONMENT AND CLIMATE CHANGE CANADA', 1185, 28, 11);
    text('ENVIRONNEMENT ET CHANGEMENT CLIMATIQUE CANADA', 1185, 40, 11);
    text('NH', 1547, 32, 13, 'center');

    // legend strip
    rect(0, 1192, 1568, 1321, '#fff');
    text('WMO Colour Code - Concentration', 572, 1208, 19.7, 'center');
    text('Code de couleurs de l’OMM - Concentration', 1083, 1208, 19.8, 'center');
    hline(5, 1562, 1220, '#888', 1);
    const swatches = [
      [166, 1229, 220, 1260, '#fff'], [166, 1268, 220, 1300, BLUE],
      [424, 1229, 477, 1260, GREEN], [424, 1268, 477, 1300, YELLOW],
      [661, 1229, 714, 1260, ORANGE], [661, 1268, 714, 1300, RED],
      [918, 1230, 971, 1260, '#fbd2fb'], [918, 1268, 971, 1299, '#ff55ff'],
      [1165, 1227, 1216, 1252, GRAY], [1165, 1255, 1216, 1281, '#d2d2d2'], [1165, 1284, 1216, 1307, '#fff']
    ];
    swatches.forEach(s => rect(s[0], s[1], s[2], s[3], s[4], '#000', 2.5));
    hline(178, 208, 1241, '#555', 1);
    hline(185, 212, 1245, '#555', 1);
    hline(178, 204, 1250, '#555', 1);
    text('Ice Free', 230, 1236, 17);
    text('Libre de glace', 230, 1252, 17);
    text('< 1/10', 233, 1285, 17);
    text('1-3/10', 487, 1246, 17);
    text('4-6/10', 486, 1288, 17);
    text('7-8/10', 724, 1246, 17);
    text('9-10/10', 724, 1287, 17);
    text('New Ice', 976, 1237, 17.7);
    text('Nouvelle glace', 976, 1253, 17.7);
    text('Nilas/Grey Ice', 976, 1278, 17.7);
    text('Nilas/glace grise', 976, 1294, 17.7);
    text('Fast Ice', 1222, 1234, 12);
    text('Banquise côtière', 1222, 1246, 12);
    text('Ice Shelf', 1222, 1261, 12);
    text('Plateau de glace', 1222, 1274, 12);
    text('Undefined', 1224, 1291, 12);
    text('Indéterminée', 1224, 1303, 12);
    text('?', 1181, 1294, 14, 'center');
    text('?', 1198, 1299, 14, 'center');

    // frame and rules
    hline(0, 1568, 46, '#000', 3);
    hline(0, 1568, 1192, '#000', 3);
    rect(2.5, 2, 1565, 1318, null, '#000', 6);
  }
};

new Chart(document.getElementById('iceChart'), {
  type: 'scatter',
  data: {datasets: layers.slice().reverse()},
  options: {
    responsive: false,
    animation: false,
    devicePixelRatio: 1,
    layout: {padding: 0, autoPadding: false},
    plugins: {legend: {display: false}, tooltip: {enabled: false}, title: {display: false}},
    scales: {
      x: {type: 'linear', min: 0, max: 1568, display: false},
      y: {type: 'linear', min: 0, max: 1321, reverse: true, display: false}
    }
  },
  plugins: [sheetPlugin]
});
</script>
</body>
</html>
